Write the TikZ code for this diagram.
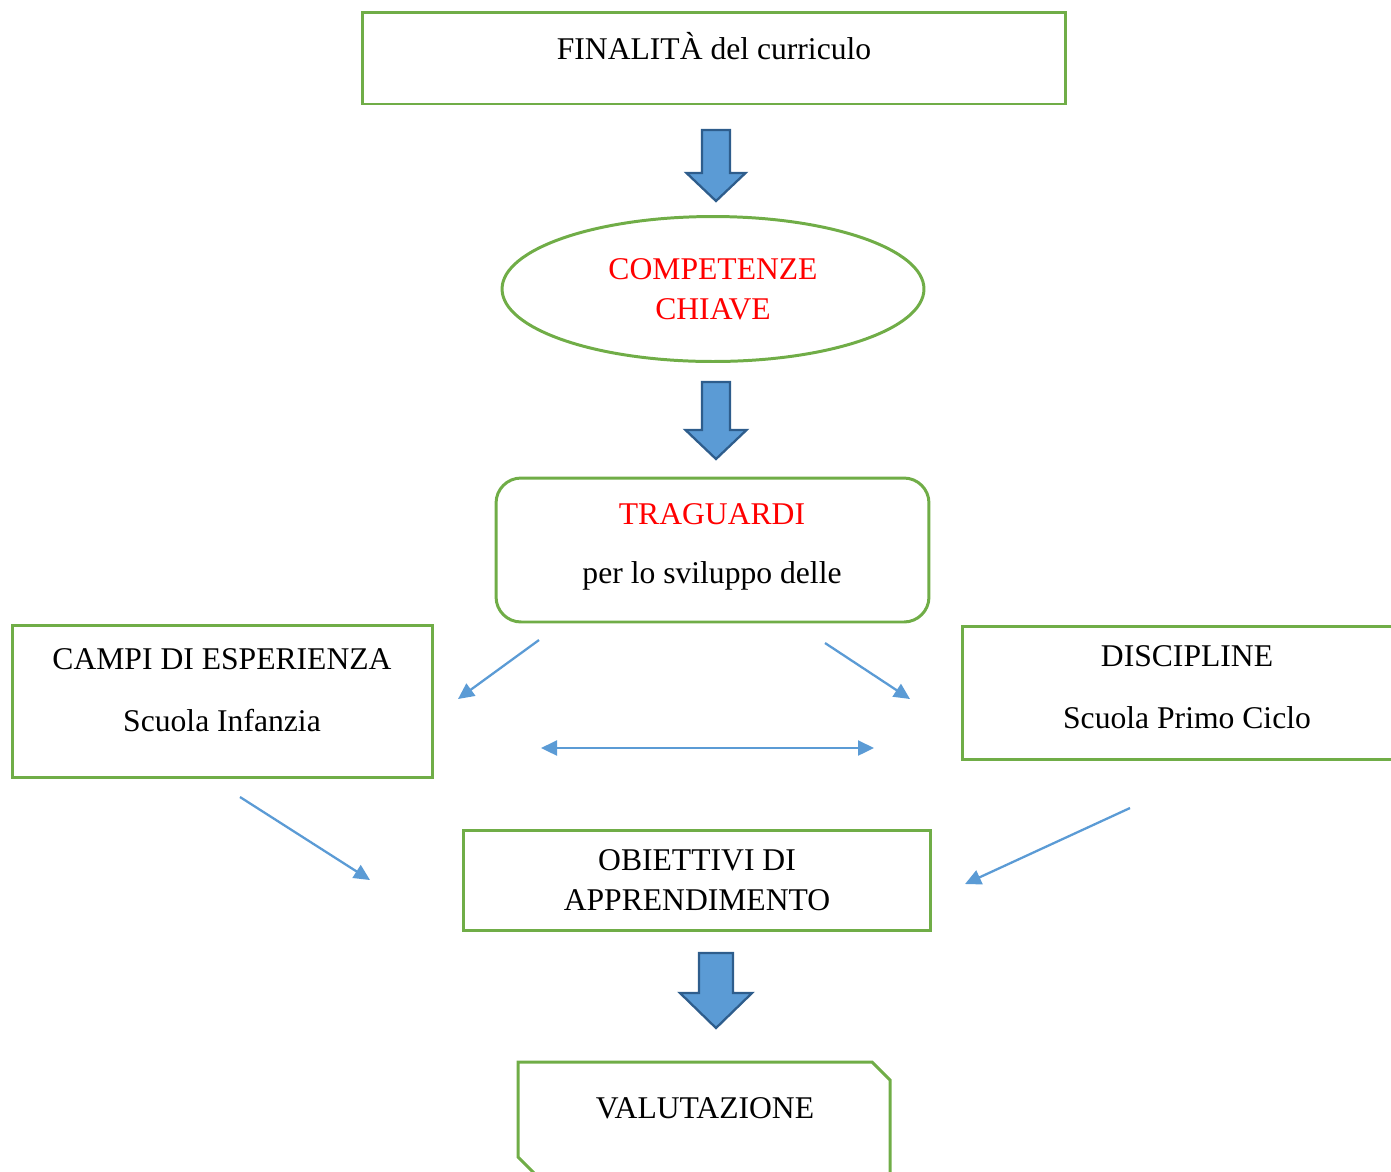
\documentclass[tikz,border=0pt]{standalone}
\usepackage{fontspec}
\setmainfont{Liberation Serif}
\usetikzlibrary{arrows.meta,shapes.geometric}
\definecolor{verde}{HTML}{70AD47}
\definecolor{azzurro}{HTML}{5B9BD5}
\definecolor{bordo}{HTML}{2E5D8C}
\definecolor{rosso}{HTML}{FF0000}
\tikzset{
  box/.style={draw=verde, line width=1.7pt, inner sep=0pt},
  testo/.style={font=\fontsize{18}{22.7}\selectfont, align=center, inner sep=0pt},
  freccia/.style={draw=azzurro, line width=1.3pt, -{Triangle[length=0.32cm,width=0.3cm]}},
  frecciona/.style={fill=azzurro, draw=bordo, line width=1.3pt, line join=miter}
}

\begin{document}
\begin{tikzpicture}[x=0.02cm, y=-0.02cm]
\useasboundingbox (0,0) rectangle (1391,1171);
\clip (0,0) rectangle (1391,1171);

% caselle
\node[box, minimum width=14.08cm, minimum height=1.84cm] (finalita) at (714,58) {};
\node[testo] (tfinalita) at (714,46) {FINALITÀ del curriculo};

\node[box, ellipse, minimum width=8.44cm, minimum height=2.9cm, testo, text=rosso] (competenze) at (713,289) {COMPETENZE\\CHIAVE};

\node[box, rounded corners=0.5cm, minimum width=8.66cm, minimum height=2.88cm] (traguardi) at (712.5,550) {};
\node[testo, text=rosso] (ttraguardi) at (712,514) {TRAGUARDI};
\node[testo] (tsviluppo) at (712,576) {per lo sviluppo delle};

\node[box, minimum width=8.42cm, minimum height=3.04cm] (campi) at (222.5,701) {};
\node[testo] (tcampi) at (222,659) {CAMPI DI ESPERIENZA};
\node[testo] (tinfanzia) at (222,720) {Scuola Infanzia};

\node[box, minimum width=9.0cm, minimum height=2.66cm] (discipline) at (1187,692.5) {};
\node[testo] (tdiscipline) at (1187,656) {DISCIPLINE};
\node[testo] (tprimo) at (1187,718) {Scuola Primo Ciclo};

\node[box, minimum width=9.36cm, minimum height=2.0cm, testo] (obiettivi) at (697,880) {OBIETTIVI DI\\APPRENDIMENTO};

\draw[box] (518,1062) -- (872,1062) -- (890,1080) -- (890,1175) -- (536,1175) -- (518,1157) -- cycle;
\node[testo] (valutazione) at (705,1108) {VALUTAZIONE};

% frecce grandi
\foreach \cx/\ya/\yb/\yc/\sw/\hw in {716/130/173/201/14/29.5, 716/382/430/459/14/30.5, 716/953/993/1028/17/36}{
  \draw[frecciona] (\cx-\sw,\ya) -- (\cx+\sw,\ya) -- (\cx+\sw,\yb) -- (\cx+\hw,\yb)
    -- (\cx,\yc) -- (\cx-\hw,\yb) -- (\cx-\sw,\yb) -- cycle;
}

% frecce sottili
\coordinate (a1) at (539,640);
\coordinate (a2) at (458,699);
\coordinate (b1) at (825,643);
\coordinate (b2) at (910,699);
\coordinate (c1) at (541,748);
\coordinate (c2) at (874,748);
\coordinate (d1) at (240,797);
\coordinate (d2) at (370,880);
\coordinate (e1) at (1130,808);
\coordinate (e2) at (965,884);
\draw[freccia] (a1) -- (a2);
\draw[freccia] (b1) -- (b2);
\draw[freccia, {Triangle[length=0.32cm,width=0.3cm]}-{Triangle[length=0.32cm,width=0.3cm]}] (c1) -- (c2);
\draw[freccia] (d1) -- (d2);
\draw[freccia] (e1) -- (e2);
\end{tikzpicture}
\end{document}
